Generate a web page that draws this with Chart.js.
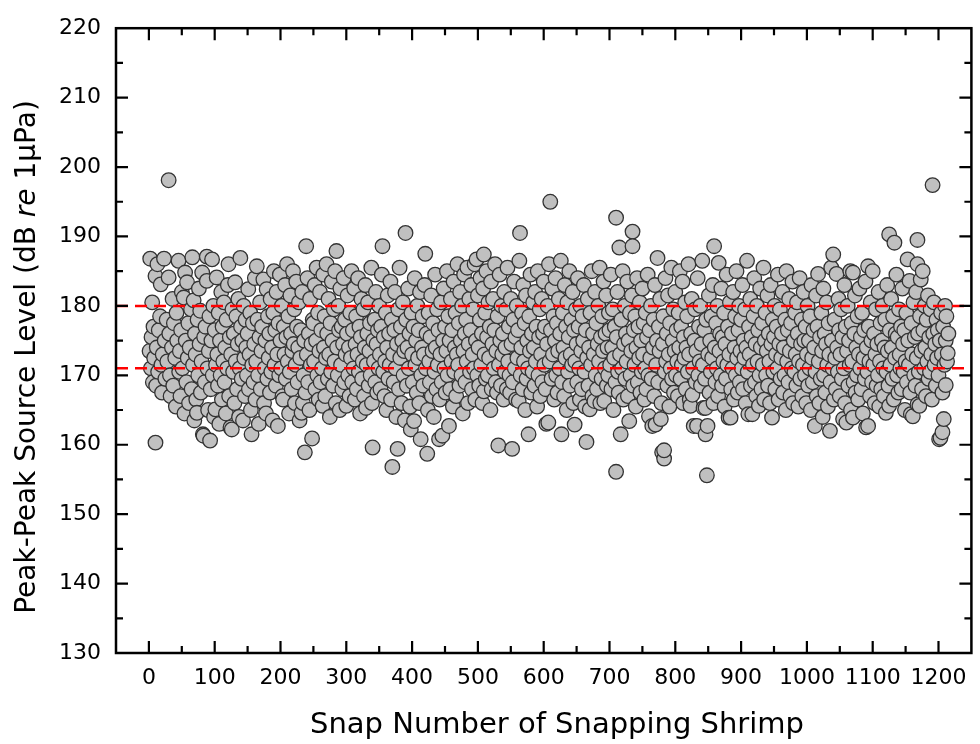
<!DOCTYPE html>
<html>
<head>
<meta charset="utf-8">
<script src="https://cdn.jsdelivr.net/npm/chart.js@4.4.1/dist/chart.umd.min.js"></script>
<style>
  html, body { margin: 0; padding: 0; background: #fff; }
  canvas { display: block; }
</style>
</head>
<body>
<canvas id="shrimp-chart" width="980" height="744"></canvas>
<script>
// snap number / peak-peak source level pairs in blocks of 100 snaps
const snaps_000 = [
  [1,173.5],[2,186.8],[3,171],[4,175.5],[5,180.5],[6,169],[7,177],[8,172.5],[10,184.3],[10,160.3],[11,168.5],[12,174],[13,186],[14,170.5],[15,176.5],[17,178.5],[18,183.1],[19,171.5],[20,167.5],[21,173],[23,186.8],[24,175],[25,169.5],[27,178],[28,172],[30,198.1],[30,184.1],[31,176],[32,170],[33,167],[35,174],[36,181],[37,168.5],[38,177.5],[40,172.5],[41,165.5],[42,179],[43,175],[45,186.5],[46,170.5],[47,173.5],[48,167],[49,176.5],
  [50,182],[51,171],[53,181.2],[54,164.5],[55,184.8],[56,175],[57,169],[58,183.4],[59,172.5],[60,177.5],[61,166],[62,174],[64,179.5],[65,168],[66,187],[67,171.5],[68,180.8],[69,163.5],[70,176],[71,173],[72,166.5],[73,164.6],[74,178],[75,170],[76,182.5],[77,174.5],[78,179.3],[79,167.5],[80,172],[81,184.8],[82,161.5],[83,161.3],[84,175.5],[85,169],[86,177],[88,187.1],[88,183.6],[89,171],[90,165],[91,173.5],[92,178.5],[93,160.6],[94,168],[95,175],[96,186.7],[97,170],[98,180],[99,164]
];
const snaps_100 = [
  [100,176.5],[101,165.1],[102,171.5],[103,184.1],[104,173],[105,168.5],[106,179],[107,163],[108,175],[109,170],[110,182],[111,166.5],[112,177],[113,172],[114,180.5],[115,169],[116,174],[117,164.5],[118,178],[119,171],[120,183],[121,186],[122,167],[123,175.5],[124,162.5],[125,173],[126,162.2],[127,179.5],[128,170.5],[129,176],[130,166],[131,183.4],[132,172],[133,178.5],[134,168],[135,174.5],[136,181],[137,164],[138,171],[139,186.9],[140,177],[141,169.5],[142,175],[143,163.5],[144,180],[145,172.5],[146,167],[147,178],[148,174],[149,170],
  [150,176],[151,182.4],[152,168],[153,173],[154,179],[155,165],[156,161.5],[157,171.5],[158,177.5],[159,169],[160,174.5],[161,184],[162,166.5],[163,172],[164,185.7],[165,178],[166,170],[167,163],[168,175.5],[169,180.5],[170,168],[171,173.5],[172,177],[174,183.8],[175,166],[176,171],[177,175],[178,164.5],[179,182.4],[180,169.5],[181,178.5],[182,172.5],[183,176],[184,167.5],[185,181],[186,170.5],[187,174],[188,163.5],[189,179],[190,185],[191,171.5],[192,176.5],[193,168.5],[194,182],[195,173],[196,162.7],[197,177.5],[198,170],[199,184.5]
];
const snaps_200 = [
  [200,175],[201,171],[202,180],[203,167],[204,166.5],[205,177],[206,173],[207,183],[208,169.5],[209,175.5],[210,186],[211,172],[212,178.5],[213,164.5],[214,170.5],[215,181.5],[216,176],[217,168],[218,173.5],[219,185],[220,174.5],[221,179.5],[222,166],[223,171.5],[224,183.5],[225,177],[226,169],[227,174],[228,180.5],[229,163.5],[230,172.5],[231,176.5],[232,164.6],[233,182],[234,166],[235,170],[236,175],[237,158.9],[238,167.5],[239,188.6],[240,173],[241,184],[242,169],[243,176],[244,165],[245,181],[246,171.5],[247,174.5],[248,160.9],[249,178],
  [250,177.5],[251,172],[252,183],[253,168],[254,175],[255,185.5],[256,170],[257,179],[258,166.5],[259,173.5],[260,182],[261,169],[262,176.5],[263,171],[264,165.6],[265,184.5],[266,174],[267,178.5],[268,167],[269,172.5],[270,186],[271,176],[272,169.5],[273,181],[274,173],[275,164],[276,177.5],[277,170.5],[278,183.5],[279,175],[280,168.5],[281,179.5],[282,172],[283,185],[284,166],[285,187.9],[286,174],[287,170],[288,180],[289,176.5],[290,165],[291,182.5],[292,171.5],[293,177],[294,168],[295,174.5],[296,184],[297,169],[298,178],[299,173]
];
const snaps_300 = [
  [300,165.6],[301,176],[302,181.5],[303,170],[304,174],[305,167],[306,179],[307,172.5],[308,185],[309,169],[310,176.5],[311,171],[312,182.5],[313,166.5],[314,174.5],[315,178.5],[316,168],[317,173],[318,184],[319,170.5],[320,177],[321,164.5],[322,175.5],[323,181],[324,169.5],[325,172],[326,179.5],[327,167],[328,174],[329,183],[330,165.3],[331,171.5],[332,176],[333,180.5],[334,168.5],[335,173.5],[336,177.5],[337,170],[338,185.5],[339,166],[340,159.6],[341,175],[342,172],[343,178],[344,169],[345,182],[346,174.5],[347,167.5],[348,176.5],[349,171],
  [350,180],[351,173],[352,168],[353,177],[354,184.5],[355,188.6],[356,170.5],[357,175.5],[358,167],[359,172],[360,179],[361,165],[362,174],[363,181.5],[364,169.5],[365,176],[366,171.5],[367,183.5],[368,166.5],[369,178],[370,156.8],[371,173],[372,169],[373,176.5],[374,182],[375,171],[376,164],[377,174.5],[378,159.4],[379,179.5],[380,168],[381,185.5],[382,172.5],[383,177],[384,166],[385,175],[386,180.5],[387,170],[388,173.5],[389,163.5],[390,190.5],[391,178],[392,168.5],[393,174],[394,182.5],[395,171],[396,176],[397,165.5],[398,162.2],[399,179]
];
const snaps_400 = [
  [400,173],[401,169],[402,177],[403,163.4],[404,184],[405,171.5],[406,175],[407,167.5],[408,180],[409,172.5],[410,176.5],[411,166],[412,182],[413,160.8],[414,170],[415,174],[416,178.5],[417,168.5],[418,173],[419,183],[420,187.5],[421,171],[422,176],[423,158.7],[424,165],[425,179],[426,172],[427,169],[428,175.5],[429,181.5],[430,167],[431,173.5],[432,177.5],[433,164],[434,170.5],[435,184.5],[436,174],[437,168],[438,179.5],[439,171.5],[440,176.5],[441,160.8],[442,166.5],[443,173],[444,180.5],[445,169],[446,161.3],[447,175],[448,182.5],[449,171],
  [450,177],[451,167.5],[452,173.5],[453,185],[454,170],[455,178.5],[456,162.7],[457,175],[458,168],[459,181],[460,172],[461,176.5],[462,165.5],[463,183.5],[464,170.5],[465,174],[466,179],[467,167],[468,173],[469,186],[470,171.5],[471,177.5],[472,168.5],[473,182],[474,175],[475,170],[476,180],[477,164.5],[478,173.5],[479,184.5],[480,176],[481,169],[482,178],[483,172],[484,185.5],[485,166],[486,174.5],[487,181],[488,170.5],[489,176.5],[490,183],[491,168],[492,173],[493,179.5],[494,171],[495,186],[496,166.5],[497,175],[498,186.7],[499,170]
];
const snaps_500 = [
  [500,181.5],[501,174],[502,168.5],[503,178],[504,184],[505,171.5],[506,176],[507,166],[508,182.5],[509,187.4],[509,167.7],[510,173],[511,179],[512,169.5],[513,185],[514,175.5],[515,170],[516,180.5],[517,172.5],[518,177],[519,165],[520,183.5],[521,168],[522,174.5],[523,181],[524,171],[525,176.5],[526,186],[527,169],[528,173.5],[529,167.5],[530,178.5],[531,159.9],[532,171.5],[533,184.5],[534,175],[535,168.5],[536,180],[537,173],[538,176],[539,166.5],[540,182],[541,170.5],[542,174],[543,179.5],[544,168],[545,185.5],[546,172],[547,177],[548,170],[549,167.5],
  [550,181],[551,174.5],[552,159.4],[553,169],[554,178],[555,183.5],[556,171],[557,175.5],[558,166.5],[559,180],[560,172.5],[561,176.5],[562,166.3],[563,186.5],[564,190.5],[565,170],[566,174],[567,179],[568,168],[569,183],[570,172],[571,177.5],[572,165],[573,181.5],[574,169.5],[575,175],[576,171],[577,161.5],[578,178.5],[579,173.5],[580,184.5],[581,167.5],[582,176],[583,170.5],[584,180.5],[585,174],[586,168.5],[587,182],[588,172],[589,177],[590,165.5],[591,185],[592,170],[593,175.5],[594,179.5],[595,167],[596,173],[597,181],[598,169],[599,176]
];
const snaps_600 = [
  [600,183.5],[601,171.5],[602,177],[603,168],[604,163],[605,174.5],[606,180],[607,163.2],[608,186],[609,172],[610,195],[611,176.5],[612,169.5],[613,182.5],[614,173],[615,178.5],[616,166.5],[617,175],[618,184],[619,170],[620,177.5],[621,167.5],[622,173.5],[623,181],[624,171],[625,176],[626,186.5],[627,161.5],[628,169],[629,179],[630,174],[631,167],[632,183],[633,172.5],[634,177],[635,165],[636,180.5],[637,170.5],[638,175.5],[639,185],[640,168.5],[641,173],[642,178],[643,171.5],[644,182],[645,166],[646,176.5],[647,162.9],[648,172],[649,179.5],
  [650,174.5],[651,169],[652,184],[653,177],[654,171],[655,166.5],[656,180],[657,173.5],[658,168],[659,178.5],[660,175],[661,183],[662,170.5],[663,165.5],[664,176.5],[665,160.4],[666,172.5],[667,181],[668,168.5],[669,174],[670,165.1],[671,179],[672,171.5],[673,185],[674,167],[675,176],[676,173],[677,166.3],[678,182],[679,170],[680,177.5],[681,168],[682,174.5],[683,180],[684,172],[685,185.5],[686,166],[687,175.5],[688,169.5],[689,178.5],[690,173.5],[691,183.5],[692,166.3],[693,171],[694,176],[695,181.5],[696,168.5],[697,174],[698,170],[699,179]
];
const snaps_700 = [
  [700,176.5],[701,171.5],[702,184.5],[703,168],[704,174],[705,179.5],[706,165],[707,172.5],[708,177],[709,169],[710,192.7],[710,156.1],[711,175.5],[712,182],[713,170.5],[714,167.5],[715,188.4],[716,173],[717,161.5],[718,178],[719,171],[720,185],[721,166.5],[722,174.5],[723,180],[724,169.5],[725,176],[726,172],[727,183.5],[728,167],[729,175],[730,163.4],[731,179],[732,170],[733,173.5],[734,181.5],[735,190.7],[735,188.6],[736,168.5],[737,176.5],[738,171.5],[739,178.5],[740,165.5],[741,174],[742,184],[743,169],[744,177],[745,172.5],[746,180.5],[747,167.5],[748,175],[749,170.5],
  [750,182.5],[751,173],[752,177.5],[753,166.5],[754,171],[755,179],[756,168],[757,175.5],[758,184.5],[759,170],[760,164.1],[761,176.5],[762,172.5],[763,180],[764,169.5],[765,162.7],[766,174],[767,178],[768,167],[769,183],[770,162.9],[771,171.5],[772,175],[773,186.9],[774,169],[775,177],[776,173.5],[777,181],[778,163.7],[779,166],[780,158.9],[781,174.5],[782,178.5],[783,158],[783,159.2],[784,170.5],[785,184],[786,172],[787,176],[788,168.5],[789,181.5],[790,173],[791,165.5],[792,177.5],[793,171],[794,185.5],[795,169.5],[796,175],[797,179.5],[798,167.5],[799,173.5]
];
const snaps_800 = [
  [800,182],[801,170],[802,176.5],[803,172],[804,167],[805,179],[806,174],[807,185],[808,169.5],[809,177],[810,171.5],[811,183.5],[812,166],[813,175.5],[814,172.5],[815,180.5],[816,168],[817,174],[818,178.5],[819,170.5],[820,186],[821,173],[822,166.5],[823,165.6],[824,176],[825,181],[826,167.2],[827,171],[828,162.7],[829,175],[830,179.5],[831,169],[832,173.5],[833,162.7],[834,184],[835,170],[836,177],[837,172],[838,180],[839,168.5],[840,174.5],[841,186.5],[842,171.5],[843,165.3],[844,176.5],[845,169.5],[846,161.5],[846,165.3],[847,178],[848,155.6],[849,162.7],
  [850,173],[851,181.5],[852,167.5],[853,175],[854,170.5],[855,178.5],[856,172.5],[857,183],[858,166],[859,188.6],[860,174],[861,169],[862,177.5],[863,171],[864,180],[865,167],[866,186.2],[867,173.5],[868,176],[869,170],[870,182.5],[871,168.5],[872,175.5],[873,172],[874,179],[875,165.5],[876,174.5],[877,169.5],[878,184.5],[879,171.5],[880,177],[881,163.9],[882,173],[883,180.5],[884,163.9],[885,168],[886,176],[887,171],[888,182],[889,166.5],[890,174],[891,178.5],[892,170],[893,185],[894,172.5],[895,167.5],[896,176.5],[897,180],[898,169],[899,173.5]
];
const snaps_900 = [
  [900,178],[901,171],[902,183],[903,168],[904,175],[905,172.5],[906,179.5],[907,166],[908,174],[909,186.5],[910,170.5],[911,164.4],[912,177],[913,173],[914,181],[915,168.5],[916,175.5],[917,164.4],[918,171.5],[919,178.5],[920,184],[921,169],[922,174.5],[923,167],[924,180],[925,172],[926,176.5],[927,165.6],[928,170],[929,182.5],[930,174],[931,168],[932,177.5],[933,171.5],[934,185.5],[935,166.5],[936,175],[937,179],[938,170],[939,173.5],[940,181.5],[941,168.5],[942,176],[943,172],[944,166],[945,183],[946,174.5],[947,163.9],[948,178],[949,170.5],
  [950,175.5],[951,180],[952,168],[953,173],[954,177],[955,171],[956,184.5],[957,166.5],[958,174.5],[959,179.5],[960,169.5],[961,172.5],[962,176],[963,182],[964,167.5],[965,174],[966,170],[967,178],[968,165],[969,185],[970,172],[971,176.5],[972,169],[973,181],[974,173.5],[975,167],[976,177.5],[977,171],[978,183.5],[979,166],[980,175],[981,170.5],[982,179],[983,173],[984,168.5],[985,180.5],[986,176],[987,165.5],[988,172],[989,184],[990,169.5],[991,174.5],[992,178],[993,167],[994,171.5],[995,182],[996,175],[997,170],[998,177],[999,166]
];
const snaps_1000 = [
  [1000,173],[1001,180],[1002,168.5],[1003,175],[1004,171],[1005,178.5],[1006,165],[1007,183],[1008,172.5],[1009,169],[1010,176.5],[1011,174],[1012,162.7],[1013,170.5],[1014,181.5],[1015,167],[1016,177],[1017,184.6],[1018,172],[1019,166],[1020,175.5],[1021,169.5],[1022,179],[1023,173.5],[1024,164],[1025,182.5],[1026,170],[1027,176],[1028,167.5],[1029,174.5],[1030,180.5],[1031,171.5],[1032,165.5],[1033,177.5],[1034,173],[1035,162],[1036,169],[1037,185.5],[1038,175],[1039,171],[1040,187.4],[1041,166.5],[1042,178],[1043,172.5],[1044,168],[1045,184.6],[1046,174],[1047,170.5],[1048,181],[1049,176.5],
  [1050,167],[1051,173],[1052,179.5],[1053,169.5],[1054,175.5],[1055,163.7],[1056,171],[1057,183],[1058,166],[1059,177],[1060,163.2],[1061,173.5],[1062,180],[1063,168.5],[1064,175],[1065,171.5],[1066,185],[1067,165],[1068,177.5],[1069,172],[1070,184.8],[1070,163.9],[1071,169],[1072,176],[1073,181.5],[1074,167.5],[1075,174],[1076,170],[1077,178.5],[1078,166.5],[1079,173],[1080,182.5],[1081,171],[1082,175.5],[1083,168],[1084,179],[1085,164.5],[1086,172.5],[1087,176.5],[1088,169.5],[1089,183.5],[1090,162.5],[1091,174],[1092,170.5],[1093,185.7],[1093,162.7],[1094,177],[1095,172],[1096,167],[1097,180.5],[1098,175],[1099,169]
];
const snaps_1100 = [
  [1100,185],[1101,171.5],[1102,176],[1103,166],[1104,173],[1105,179.5],[1106,168.5],[1107,174.5],[1108,170],[1109,182],[1110,165.5],[1111,172],[1112,177.5],[1113,168],[1114,175],[1115,180],[1116,171],[1117,167],[1118,174],[1119,178],[1120,164.6],[1121,170.5],[1122,183],[1123,173.5],[1124,168.5],[1125,190.3],[1125,165.6],[1126,176.5],[1127,171.5],[1128,181],[1129,174],[1130,169.5],[1131,178.5],[1132,166.5],[1133,189.1],[1134,172.5],[1135,176],[1136,184.5],[1137,170],[1138,175.5],[1139,167.5],[1140,179.5],[1141,173],[1142,171],[1143,177],[1144,168],[1145,182.5],[1146,174.5],[1147,170.5],[1148,176.5],[1149,165],
  [1150,172],[1151,179],[1152,169],[1153,186.7],[1154,175],[1155,171.5],[1156,183.6],[1157,167.5],[1158,164.4],[1159,177.5],[1160,173],[1161,164.1],[1162,180.5],[1163,170],[1164,175.5],[1165,168.5],[1166,182],[1167,172.5],[1168,189.5],[1168,186],[1168,165.8],[1169,176],[1170,170.5],[1171,165.6],[1172,178.5],[1173,183.8],[1174,173.5],[1175,168],[1176,185],[1177,176.5],[1178,171],[1179,180],[1180,174],[1181,167],[1182,178],[1183,172],[1184,181.5],[1185,169.5],[1186,175.5],[1187,170.5],[1188,179.5],[1189,173],[1190,166.5],[1191,197.4],[1192,176],[1193,180.5],[1194,171.5],[1195,174.5],[1196,168.5],[1197,178],[1198,172.5],[1199,176.5],
  [1200,170],[1201,160.8],[1202,175],[1203,161],[1204,179],[1205,173],[1206,161.8],[1206,167.5],[1207,177],[1208,163.7],[1209,171.5],[1210,180],[1211,168.6],[1211,175],[1212,178.5],[1213,172],[1214,173.2],[1215,176]
];

// the two dashed reference levels
const upper_level = 180;
const lower_level = 171;

const x_min = -50, x_max = 1250;
const y_min = 130, y_max = 220;
const x_tick_values = [0, 100, 200, 300, 400, 500, 600, 700, 800, 900, 1000, 1100, 1200];

const all_snaps = [].concat(snaps_000, snaps_100, snaps_200, snaps_300, snaps_400, snaps_500,
    snaps_600, snaps_700, snaps_800, snaps_900, snaps_1000, snaps_1100);

const FONT = "'DejaVu Sans', 'Liberation Sans', Arial, sans-serif";
Chart.defaults.font.family = FONT;
Chart.defaults.color = '#000';

// frame, inward ticks on all four sides, and axis titles
const frame_plugin = {
    id: 'frame',
    afterDatasetsDraw(chart) {
        const ctx = chart.ctx;
        const a = chart.chartArea;
        const xs = chart.scales.x, ys = chart.scales.y;
        ctx.save();
        ctx.strokeStyle = '#000';
        ctx.lineWidth = 2.5;
        ctx.strokeRect(a.left, a.top, a.right - a.left, a.bottom - a.top);

        ctx.lineWidth = 2.2;
        ctx.beginPath();
        for (let v = 0; v <= 1200; v += 50) {
            const px = xs.getPixelForValue(v);
            const len = (v % 100 == 0) ? 12 : 7;
            ctx.moveTo(px, a.bottom); ctx.lineTo(px, a.bottom - len);
            ctx.moveTo(px, a.top); ctx.lineTo(px, a.top + len);
        }
        for (let v = y_min + 5; v < y_max; v += 5) {
            const py = ys.getPixelForValue(v);
            const len = (v % 10 == 0) ? 12 : 7;
            ctx.moveTo(a.left, py); ctx.lineTo(a.left + len, py);
            ctx.moveTo(a.right, py); ctx.lineTo(a.right - len, py);
        }
        ctx.stroke();

        // x title
        ctx.fillStyle = '#000';
        ctx.font = "29px " + FONT;
        ctx.textAlign = 'center';
        ctx.textBaseline = 'alphabetic';
        ctx.fillText('Snap Number of Snapping Shrimp', 557, 733);

        // y title, with an italic "re"
        const parts = [
            ['Peak-Peak Source Level (dB ', 'normal'],
            ['re', 'italic'],
            [' 1\u03bcPa)', 'normal']
        ];
        let total = 0;
        parts.forEach(p => { ctx.font = p[1] + " 28px " + FONT; total += ctx.measureText(p[0]).width; });
        ctx.translate(35, 357);
        ctx.rotate(-Math.PI / 2);
        ctx.textAlign = 'left';
        let cx = -total / 2;
        parts.forEach(p => {
            ctx.font = p[1] + " 28px " + FONT;
            ctx.fillText(p[0], cx, 0);
            cx += ctx.measureText(p[0]).width;
        });
        ctx.restore();
    }
};

new Chart(document.getElementById('shrimp-chart'), {
    type: 'scatter',
    data: {
        datasets: [
            {
                type: 'line',
                data: [{ x: x_min, y: upper_level }, { x: x_max, y: upper_level }],
                borderColor: '#ff0000',
                borderWidth: 2.5,
                borderDash: [12, 7],
                pointRadius: 0,
                order: 0
            },
            {
                type: 'line',
                data: [{ x: x_min, y: lower_level }, { x: x_max, y: lower_level }],
                borderColor: '#ff0000',
                borderWidth: 2.5,
                borderDash: [12, 7],
                pointRadius: 0,
                order: 0
            },
            {
                data: all_snaps.map(s => ({ x: s[0], y: s[1] })),
                backgroundColor: '#c0c0c0',
                borderColor: '#333333',
                borderWidth: 1.3,
                pointRadius: 7.3,
                order: 1
            }
        ]
    },
    options: {
        responsive: false,
        devicePixelRatio: 1,
        animation: false,
        layout: { padding: { top: 21, right: 4, left: 0, bottom: 0 } },
        plugins: {
            legend: { display: false },
            tooltip: { enabled: false }
        },
        scales: {
            x: {
                type: 'linear',
                min: x_min,
                max: x_max,
                grid: { display: false, drawTicks: false },
                border: { display: false },
                ticks: {
                    autoSkip: false, maxRotation: 0, padding: 12, font: { size: 22 },
                    callback: v => String(v)
                },
                afterBuildTicks: scale => {
                    scale.ticks = x_tick_values.map(v => ({ value: v }));
                },
                afterFit: scale => { scale.height = 91; }
            },
            y: {
                type: 'linear',
                min: y_min,
                max: y_max,
                grid: { display: false, drawTicks: false },
                border: { display: false },
                ticks: { stepSize: 10, padding: 15, font: { size: 22 }, callback: v => String(v) },
                afterFit: scale => { scale.width = 116; }
            }
        }
    },
    plugins: [frame_plugin]
});
</script>
</body>
</html>
